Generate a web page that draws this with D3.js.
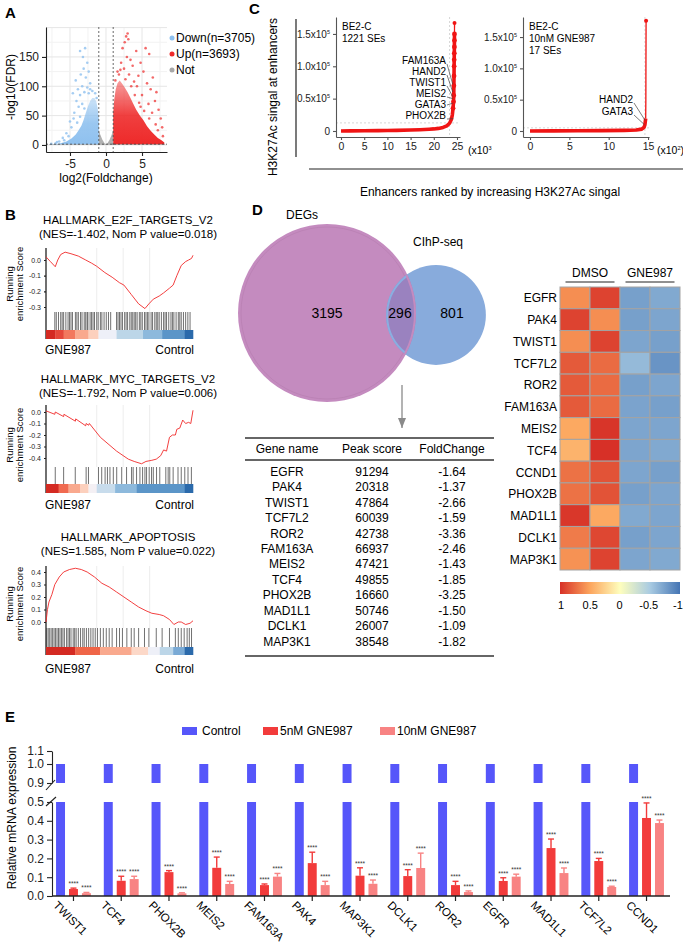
<!DOCTYPE html>
<html>
<head>
<meta charset="utf-8">
<script src="https://cdn.jsdelivr.net/npm/d3@7"></script>
<style>
body { margin: 0; background: #fff; }
</style>
</head>
<body>
<div id="fig"></div>
<script>
var FONT = '"Liberation Sans", Arial, Helvetica, sans-serif'

// ---------------- A: volcano
var volcanoXTicks = [-5, 0, 5]
var volcanoYTicks = [0, 50, 100, 150]
var volcanoGridX = [-7.5, -5, -2.5, 0, 2.5, 5, 7.5]
var volcanoGridY = [0, 25, 50, 75, 100, 125, 150, 175, 200]
var fcCut = [-1, 1]
var fdrCut = 1.3
var notBand = [[-7.9,0],[8.2,0],[8.2,1.3],[-7.9,1.3]]
var notCloud = [[-1,1.3],[-1,25],[-0.8,18],[-0.5,9],[-0.2,3],[0,1.3],[0.2,3],[0.5,9],[0.8,18],[1,25],[1,1.3]]
var downCloud = [[-1.0,1.3],[-1.0,45],[-1.15,62],[-1.35,74],[-1.6,80],[-1.9,80],[-2.2,75],[-2.5,66],[-2.8,55],[-3.1,43],[-3.4,33],[-3.8,25],[-4.2,18],[-4.8,11],[-5.5,6],[-6.3,3],[-7.2,1.3]]
var upCloud = [[1.0,1.3],[1.0,55],[1.15,78],[1.35,95],[1.6,105],[1.9,110],[2.2,105],[2.6,98],[3.0,90],[3.4,80],[3.8,70],[4.2,60],[4.7,50],[5.2,42],[5.7,32],[6.2,24],[6.7,18],[7.2,12],[7.7,8],[8.1,4],[8.1,1.3]]
var downPoints = [[-2.9,165],[-3.6,160],[-3.2,150],[-2.6,140],[-3.1,130],[-2.4,125],[-3.5,120],[-2.8,115],[-4.2,110],[-2.2,105],[-3.3,100],[-2.6,98],[-3.9,95],[-4.6,88],[-3.0,90],[-2.4,88],[-3.6,85],[-4.1,75],[-3.8,65],[-4.4,55],[-5.0,40],[-4.8,30],[-5.5,20],[-6.0,12],[-5.2,15],[-6.5,6],[-7.0,3],[-7.6,2],[-6.8,5],[-5.8,8],[-4.5,45],[-3.3,70],[-1.5,88],[-1.9,92],[-1.3,80],[-3.0,62],[-3.6,48],[-4.0,38],[-2.2,95]]
var upPoints = [[3.0,190],[2.8,185],[3.1,180],[2.6,175],[2.3,165],[5.5,165],[4.2,160],[6.0,155],[2.9,150],[3.4,145],[2.1,140],[4.8,140],[3.7,135],[2.5,130],[5.2,125],[3.2,120],[4.5,118],[6.5,115],[2.0,128],[3.9,108],[5.7,105],[4.3,100],[6.2,95],[7.0,90],[5.0,85],[3.5,100],[6.8,75],[5.9,70],[7.3,60],[4.8,65],[6.4,55],[7.6,45],[7.8,30],[6.9,35],[7.2,25],[5.3,58],[4.0,85],[1.6,125],[1.3,110],[7.9,15],[2.7,112],[1.8,120],[4.6,72],[6.0,45]]
var volcanoLegend = ["Down(n=3705)", "Up(n=3693)", "Not"]
var volcanoColors = ["#8fc1ef", "#ee2a2a", "#a8a8a8"]

// ---------------- C: super-enhancer ranking
var seLeftTicksX = [0, 5, 10, 15, 20, 25]
var seRightTicksX = [0, 5, 10, 15]
var seTicksY = [0, 0.5, 1.0, 1.5]
var seLeft = [[0,0],[2,0.002],[5,0.004],[8,0.006],[10,0.008],[12,0.01],[15,0.015],[17,0.02],[19,0.027],[20,0.032],[21,0.04],[22,0.055],[22.8,0.08],[23.4,0.12],[23.8,0.18],[24.0,0.25],[24.15,0.35],[24.25,0.45],[24.3,0.55],[24.33,0.7],[24.36,0.85],[24.38,1.0],[24.4,1.1],[24.42,1.2],[24.44,1.3],[24.45,1.4],[24.46,1.5],[24.47,1.67]]
var seRight = [[0,0],[3,0.002],[6,0.004],[9,0.006],[12,0.01],[13.5,0.015],[14.2,0.03],[14.5,0.06],[14.6,0.1],[14.65,0.15],[14.7,0.2],[14.72,0.5],[14.73,1.0],[14.75,1.76]]
var seLeftCut = [23.4, 0.125]
var seRightCut = [14.6, 0.05]
var seLeftInfo = ["BE2-C", "1221 SEs"]
var seRightInfo = ["BE2-C", "10nM GNE987", "17 SEs"]
var seLeftGenes = ["FAM163A", "HAND2", "TWIST1", "MEIS2", "GATA3", "PHOX2B"]
var seLeftGeneSignal = [0.72, 0.6, 0.53, 0.5, 0.43, 0.19]
var seLeftGeneRank = [24.1, 24.1, 24.1, 24.1, 24.1, 24.2]
var seRightGenes = ["HAND2", "GATA3"]
var seRightGeneSignal = [0.17, 0.1]
var seRightGeneRank = [14.62, 14.55]

// ---------------- B: GSEA
var gseaTitles = ["HALLMARK_E2F_TARGETS_V2", "HALLMARK_MYC_TARGETS_V2", "HALLMARK_APOPTOSIS"]
var gseaStats = ["(NES=-1.402, Nom P value=0.018)", "(NES=-1.792, Nom P value=0.006)", "(NES=1.585, Nom P value=0.022)"]
var gseaTicks = [[0, -0.1, -0.2, -0.3], [0, -0.1, -0.2, -0.3, -0.4], [0, 0.1, 0.2, 0.3, 0.4]]
var gseaGrid = [0.345, 0.525, 0.705]
var e2fCurve = [[0,0.02],[0.03,-0.01],[0.063,-0.043],[0.08,0.0],[0.1,0.035],[0.13,0.05],[0.17,0.04],[0.22,0.025],[0.27,0.0],[0.31,-0.02],[0.345,-0.04],[0.4,-0.08],[0.45,-0.11],[0.5,-0.145],[0.53,-0.16],[0.58,-0.22],[0.63,-0.28],[0.673,-0.31],[0.7,-0.28],[0.73,-0.25],[0.77,-0.23],[0.8,-0.21],[0.84,-0.18],[0.865,-0.16],[0.89,-0.1],[0.92,-0.035],[0.95,-0.01],[0.97,0.0],[0.99,0.01],[1.0,0.03]]
var mycCurve = [[0,0.01],[0.06,-0.02],[0.063,0.0],[0.12,-0.04],[0.122,-0.02],[0.2,-0.08],[0.202,-0.06],[0.27,-0.12],[0.273,-0.1],[0.29,-0.115],[0.295,-0.1],[0.37,-0.22],[0.48,-0.34],[0.56,-0.41],[0.6,-0.43],[0.65,-0.45],[0.68,-0.43],[0.72,-0.42],[0.75,-0.41],[0.78,-0.38],[0.8,-0.33],[0.82,-0.34],[0.84,-0.22],[0.86,-0.2],[0.88,-0.2],[0.89,-0.15],[0.91,-0.14],[0.93,-0.07],[0.95,-0.1],[0.97,-0.09],[0.985,-0.1],[1.0,0.015]]
var apoCurve = [[0,0],[0.01,0.1],[0.02,0.16],[0.04,0.22],[0.06,0.3],[0.09,0.36],[0.12,0.4],[0.16,0.42],[0.2,0.43],[0.24,0.42],[0.28,0.4],[0.33,0.36],[0.38,0.31],[0.43,0.28],[0.48,0.24],[0.53,0.2],[0.58,0.16],[0.63,0.12],[0.68,0.09],[0.72,0.07],[0.77,0.06],[0.8,0.05],[0.84,0.02],[0.87,-0.02],[0.9,0.0],[0.92,0.0],[0.95,-0.02],[0.98,-0.01],[1.0,0.01]]
var e2fHits = [0.06,0.07,0.085,0.1,0.11,0.12,0.135,0.15,0.16,0.17,0.18,0.2,0.21,0.22,0.235,0.245,0.26,0.27,0.28,0.285,0.3,0.31,0.32,0.33,0.345,0.355,0.37,0.38,0.395,0.41,0.425,0.44,0.48,0.49,0.5,0.51,0.52,0.535,0.545,0.555,0.57,0.58,0.59,0.6,0.61,0.62,0.635,0.645,0.655,0.67,0.68,0.69,0.7,0.715,0.725,0.74,0.75,0.76,0.77,0.785,0.8,0.81,0.82,0.835,0.85,0.86,0.87,0.885,0.9,0.91,0.92,0.935,0.95,0.965,0.98]
var mycHits = [0.063,0.12,0.199,0.273,0.289,0.357,0.379,0.402,0.418,0.435,0.458,0.481,0.515,0.548,0.582,0.593,0.616,0.639,0.657,0.673,0.684,0.702,0.718,0.73,0.752,0.774,0.815,0.831,0.842,0.865,0.898,0.92,0.944,0.966,0.989]
var apoHits = [0.005,0.015,0.025,0.035,0.045,0.055,0.065,0.075,0.085,0.095,0.105,0.115,0.125,0.14,0.15,0.16,0.17,0.185,0.195,0.205,0.22,0.235,0.25,0.26,0.275,0.29,0.305,0.32,0.335,0.35,0.37,0.39,0.41,0.43,0.45,0.48,0.5,0.52,0.55,0.58,0.6,0.63,0.67,0.7,0.75,0.79,0.84,0.88,0.9,0.92,0.94,0.96,0.975,0.99]
var e2fRank = [[0,"#d42a22"],[0.063,"#e5483a"],[0.12,"#f2785e"],[0.199,"#f9a98e"],[0.289,"#fcd0bd"],[0.357,"#eef0f8"],[0.48,"#bcd6e8"],[0.66,"#8db9dc"],[0.79,"#5b95c8"],[0.943,"#2b6aab"]]
var mycRank = [[0,"#d42a22"],[0.086,"#f06a50"],[0.153,"#f9a98e"],[0.233,"#fcd0bd"],[0.289,"#f4f0f4"],[0.345,"#c8dcec"],[0.47,"#8db9dc"],[0.616,"#5b95c8"],[0.943,"#2b6aab"]]
var apoRank = [[0,"#d42a22"],[0.199,"#ef6548"],[0.368,"#f9a98e"],[0.582,"#fcd8c8"],[0.695,"#eef0f8"],[0.774,"#bcd6e8"],[0.865,"#7aaad5"],[0.943,"#2b6aab"]]

// ---------------- D: venn, table, heatmap
var vennNames = ["DEGs", "CIhP-seq"]
var vennCounts = [3195, 296, 801]
var tableHeader = ["Gene name", "Peak score", "FoldChange"]
var tableGenes = ["EGFR","PAK4","TWIST1","TCF7L2","ROR2","FAM163A","MEIS2","TCF4","PHOX2B","MAD1L1","DCLK1","MAP3K1"]
var tablePeak = ["91294","20318","47864","60039","42738","66937","47421","49855","16660","50746","26007","38548"]
var tableFold = ["-1.64","-1.37","-2.66","-1.59","-3.36","-2.46","-1.43","-1.85","-3.25","-1.50","-1.09","-1.82"]
var hmGenes = ["EGFR","PAK4","TWIST1","TCF7L2","ROR2","FAM163A","MEIS2","TCF4","CCND1","PHOX2B","MAD1L1","DCLK1","MAP3K1"]
var hmGroups = ["DMSO", "GNE987"]
var hmCols = ["DMSO_1", "DMSO_2", "GNE987_1", "GNE987_2"]
var hmValues = [
  [0.6, 0.92, -0.75, -0.7],
  [0.92, 0.6, -0.75, -0.72],
  [0.6, 0.92, -0.72, -0.75],
  [0.82, 0.75, -0.6, -0.82],
  [0.82, 0.75, -0.75, -0.72],
  [0.82, 0.75, -0.73, -0.75],
  [0.48, 0.98, -0.72, -0.72],
  [0.42, 1.0, -0.72, -0.7],
  [0.72, 0.85, -0.72, -0.75],
  [0.72, 0.85, -0.75, -0.72],
  [0.97, 0.48, -0.7, -0.72],
  [0.68, 0.9, -0.75, -0.72],
  [0.58, 0.92, -0.72, -0.7]
]
var hmScaleStops = [1, 0.5, 0, -0.5, -1]
var hmScaleColors = ["#d73027", "#fca55d", "#fefebd", "#a9cbe2", "#4575b4"]

// ---------------- E: qPCR bars
var qGenes = ["TWIST1","TCF4","PHOX2B","MEIS2","FAM163A","PAK4","MAP3K1","DCLK1","ROR2","EGFR","MAD1L1","TCF7L2","CCND1"]
var qSeries = ["Control", "5nM GNE987", "10nM GNE987"]
var qColors = ["#5656fa", "#f23b3b", "#f88383"]
var qControl = [1,1,1,1,1,1,1,1,1,1,1,1,1]
var q5nM = [0.037,0.081,0.127,0.15,0.058,0.175,0.108,0.106,0.058,0.08,0.255,0.186,0.415]
var q5nMErr = [0.005,0.024,0.008,0.057,0.006,0.058,0.042,0.034,0.02,0.017,0.048,0.014,0.08]
var q10nM = [0.015,0.09,0.014,0.064,0.103,0.058,0.065,0.149,0.021,0.103,0.122,0.048,0.388]
var q10nMErr = [0.004,0.015,0.003,0.014,0.017,0.02,0.02,0.079,0.006,0.013,0.027,0.004,0.016]
var qLowTicks = [0, 0.1, 0.2, 0.3, 0.4, 0.5]
var qHighTicks = [0.9, 1.0, 1.1]

var svg = d3.select("#fig").append("svg")
  .attr("width", 683).attr("height", 945)
  .attr("font-family", FONT)
svg.append("rect").attr("width", 683).attr("height", 945).attr("fill", "#fff")
var defs = svg.append("defs")

function panelLabel(x, y, t) {
  svg.append("text").attr("x", x).attr("y", y)
    .attr("font-size", 15).attr("font-weight", "bold").text(t)
}
function styleAxis(g, fs, col) {
  g.attr("font-family", FONT).attr("font-size", fs)
  g.selectAll("path").attr("stroke", col || "#222").attr("stroke-width", 1.1)
  g.selectAll("line").attr("stroke", col || "#222").attr("stroke-width", 1.1)
  g.selectAll("text").attr("fill", "#222")
}
function fadeGrad(id, col) {
  var gr = defs.append("linearGradient").attr("id", id).attr("x1", 0).attr("y1", 1).attr("x2", 0).attr("y2", 0)
  gr.append("stop").attr("offset", "0%").attr("stop-color", col).attr("stop-opacity", 1)
  gr.append("stop").attr("offset", "45%").attr("stop-color", col).attr("stop-opacity", 0.9)
  gr.append("stop").attr("offset", "100%").attr("stop-color", col).attr("stop-opacity", 0.45)
}

// =============== Panel A
panelLabel(5, 18, "A")
var ax = d3.scaleLinear().domain([-8.33, 8.47]).range([46, 167])
var ay = d3.scaleLinear().domain([-12, 201]).range([152, 27])
var gA = svg.append("g")
gA.selectAll(".gx").data(volcanoGridX).enter().append("line")
  .attr("x1", d => ax(d)).attr("x2", d => ax(d)).attr("y1", 27).attr("y2", 152)
  .attr("stroke", d => d % 5 === 0 ? "#e6e6e6" : "#f2f2f2")
gA.selectAll(".gy").data(volcanoGridY).enter().append("line")
  .attr("y1", d => ay(d)).attr("y2", d => ay(d)).attr("x1", 46).attr("x2", 167)
  .attr("stroke", d => d % 50 === 0 ? "#e6e6e6" : "#f2f2f2")
fadeGrad("fadeDown", volcanoColors[0])
fadeGrad("fadeUp", volcanoColors[1])
var area = d3.line().x(d => ax(d[0])).y(d => ay(d[1])).curve(d3.curveLinearClosed)
var poly = d3.line().x(d => ax(d[0])).y(d => ay(d[1]))
gA.append("path").attr("d", poly(notBand) + "Z").attr("fill", volcanoColors[2])
gA.append("path").attr("d", poly(notCloud) + "Z").attr("fill", volcanoColors[2]).attr("opacity", 0.9)
gA.append("path").attr("d", area(downCloud)).attr("fill", "url(#fadeDown)")
gA.append("path").attr("d", area(upCloud)).attr("fill", "url(#fadeUp)")
gA.selectAll(".dp").data(downPoints).enter().append("circle")
  .attr("cx", d => ax(d[0])).attr("cy", d => ay(d[1])).attr("r", 1.3)
  .attr("fill", volcanoColors[0]).attr("opacity", 0.8)
gA.selectAll(".up").data(upPoints).enter().append("circle")
  .attr("cx", d => ax(d[0])).attr("cy", d => ay(d[1])).attr("r", 1.3)
  .attr("fill", volcanoColors[1]).attr("opacity", 0.7)
gA.selectAll(".vc").data(fcCut).enter().append("line")
  .attr("x1", d => ax(d)).attr("x2", d => ax(d)).attr("y1", 27).attr("y2", 152)
  .attr("stroke", "#444").attr("stroke-width", 0.8).attr("stroke-dasharray", "2,2")
gA.append("line").attr("x1", 46).attr("x2", 167).attr("y1", ay(fdrCut)).attr("y2", ay(fdrCut))
  .attr("stroke", "#444").attr("stroke-width", 0.8).attr("stroke-dasharray", "2,2")
var axA = gA.append("g").attr("transform", "translate(46,0)")
  .call(d3.axisLeft(ay).tickValues(volcanoYTicks).tickSize(4).tickSizeOuter(0))
styleAxis(axA, 12)
var bxA = gA.append("g").attr("transform", "translate(0,152)")
  .call(d3.axisBottom(ax).tickValues(volcanoXTicks).tickSize(4).tickSizeOuter(0).tickFormat(d => d))
styleAxis(bxA, 12)
gA.append("text").attr("transform", "translate(15,87) rotate(-90)")
  .attr("text-anchor", "middle").attr("font-size", 12).text("-log10(FDR)")
gA.append("text").attr("x", 106).attr("y", 182).attr("text-anchor", "middle")
  .attr("font-size", 12).text("log2(Foldchange)")
volcanoLegend.forEach(function(t, i) {
  gA.append("circle").attr("cx", 172).attr("cy", 38 + i * 16).attr("r", 2.5).attr("fill", volcanoColors[i])
  gA.append("text").attr("x", 176).attr("y", 42 + i * 16).attr("font-size", 12).text(t)
})

// =============== Panel C
panelLabel(249, 14, "C")
svg.append("text").attr("transform", "translate(277,97) rotate(-90)")
  .attr("text-anchor", "middle").attr("font-size", 12).text("H3K27Ac singal at enhancers")
svg.append("line").attr("x1", 296).attr("x2", 296).attr("y1", 19).attr("y2", 157)
  .attr("stroke", "#222").attr("stroke-width", 1.2)
svg.append("line").attr("x1", 309).attr("x2", 683).attr("y1", 169).attr("y2", 169)
  .attr("stroke", "#222").attr("stroke-width", 1.2)
svg.append("text").attr("x", 490).attr("y", 196).attr("text-anchor", "middle")
  .attr("font-size", 12).text("Enhancers ranked by increasing H3K27Ac singal")

function sePlot(o) {
  var g = svg.append("g")
  var x = d3.scaleLinear().domain(o.xd).range(o.xr)
  var y = d3.scaleLinear().domain(o.yd).range([137, 17])
  g.append("line").attr("x1", x(o.cut[0])).attr("x2", x(o.cut[0])).attr("y1", 17).attr("y2", 137)
    .attr("stroke", "#c4c4c4").attr("stroke-width", 0.7).attr("stroke-dasharray", "2,2")
  g.append("line").attr("x1", o.xr[0]).attr("x2", o.xr[1]).attr("y1", y(o.cut[1])).attr("y2", y(o.cut[1]))
    .attr("stroke", "#c4c4c4").attr("stroke-width", 0.7).attr("stroke-dasharray", "2,2")
  var ya = g.append("g").attr("transform", "translate(" + o.xr[0] + ",0)")
    .call(d3.axisLeft(y).tickValues(seTicksY).tickSize(3).tickSizeOuter(0)
      .tickFormat(d => d === 0 ? "0" : d.toFixed(1) + "x10"))
  styleAxis(ya, 10, "#555")
  ya.selectAll(".tick text").filter(d => d !== 0)
    .append("tspan").attr("dy", -4).attr("font-size", 5.5).text("5")
  var xa = g.append("g").attr("transform", "translate(0,137)")
    .call(d3.axisBottom(x).tickValues(o.xt).tickSize(3).tickSizeOuter(0))
  styleAxis(xa, 10.5, "#555")
  var unit = g.append("text").attr("x", o.xr[1] + 8).attr("y", 154).attr("font-size", 10.5).text("(x10")
  unit.append("tspan").attr("dy", -4).attr("font-size", 5.5).text(o.exp)
  if (o.close) unit.append("tspan").attr("dy", 4).text(")")
  var line = d3.line().x(d => x(d[0])).y(d => y(d[1]))
  var thick = o.data.filter(d => d[1] <= o.thickTo)
  var thin = o.data.filter(d => d[1] >= o.thinFrom)
  g.append("path").attr("d", line(thick)).attr("fill", "none").attr("stroke", "#f01414")
    .attr("stroke-width", 3.6).attr("stroke-linejoin", "round")
  g.append("path").attr("d", line(thin)).attr("fill", "none").attr("stroke", "#f01414").attr("stroke-width", 1.3)
  g.selectAll(".pt").data(o.data.filter(d => d[1] >= o.dotFrom)).enter().append("circle")
    .attr("cx", d => x(d[0])).attr("cy", d => y(d[1])).attr("r", d => d[1] > o.thickTo ? 2 : 2.4).attr("fill", "#f01414")
  o.info.forEach(function(t, i) {
    g.append("text").attr("x", o.xr[0] + 6).attr("y", 30 + i * 12).attr("font-size", 10).text(t)
  })
  o.genes.forEach(function(t, i) {
    var ty = o.labY + i * o.labStep
    g.append("text").attr("x", o.labX).attr("y", ty).attr("text-anchor", "end").attr("font-size", 10).text(t)
    g.append("line").attr("x1", o.labX + 1).attr("y1", ty - 3 + (o.genes[i] === "GATA3" && o.flat ? 0 : 3))
      .attr("x2", x(o.rank[i])).attr("y2", y(o.sig[i]))
      .attr("stroke", "#444").attr("stroke-width", 0.7)
  })
}
sePlot({xd: [-1.08, 25.65], xr: [336, 460], yd: [-0.093, 1.762], xt: seLeftTicksX, data: seLeft,
  cut: seLeftCut, exp: "3", close: false, thickTo: 1.55, thinFrom: 1.5, dotFrom: 0.3,
  info: seLeftInfo, genes: seLeftGenes, sig: seLeftGeneSignal, rank: seLeftGeneRank,
  labX: 446, labY: 64, labStep: 11, flat: true})
sePlot({xd: [-0.89, 15.12], xr: [523, 649], yd: [-0.096, 1.82], xt: seRightTicksX, data: seRight,
  cut: seRightCut, exp: "2", close: true, thickTo: 0.2, thinFrom: 0.2, dotFrom: 1.7,
  info: seRightInfo, genes: seRightGenes, sig: seRightGeneSignal, rank: seRightGeneRank,
  labX: 633, labY: 103, labStep: 12, flat: false})

// =============== Panel B
panelLabel(5, 220, "B")
function gsea(o) {
  var g = svg.append("g")
  var x = d3.scaleLinear().domain([0, 1]).range([46, 193])
  var y = d3.scaleLinear().domain(o.yd).range(o.yr)
  g.append("text").attr("x", 128).attr("y", o.titleY).attr("text-anchor", "middle").attr("font-size", 11.5).text(o.title)
  g.append("text").attr("x", 128).attr("y", o.titleY + 14).attr("text-anchor", "middle").attr("font-size", 11.5).text(o.stat)
  g.selectAll(".gl").data(gseaGrid).enter().append("line")
    .attr("x1", d => x(d)).attr("x2", d => x(d)).attr("y1", o.top).attr("y2", o.hits[0])
    .attr("stroke", "#e8e8e8").attr("stroke-width", 0.8)
  var ya = g.append("g").attr("transform", "translate(46,0)")
    .call(d3.axisLeft(y).tickValues(o.ticks).tickSize(2).tickFormat(d => d.toFixed(1)))
  styleAxis(ya, 7, "#222")
  ya.select(".domain").remove()
  g.append("line").attr("x1", 46).attr("x2", 46).attr("y1", o.top).attr("y2", o.colors[1])
    .attr("stroke", "#222").attr("stroke-width", 1.3)
  g.append("path").datum(o.curve).attr("d", d3.line().x(d => x(d[0])).y(d => y(d[1])))
    .attr("fill", "none").attr("stroke", "#f02a2a").attr("stroke-width", 0.9)
  g.selectAll(".hit").data(o.hitData).enter().append("line")
    .attr("x1", d => x(d)).attr("x2", d => x(d)).attr("y1", o.hits[0]).attr("y2", o.hits[1])
    .attr("stroke", "#333").attr("stroke-width", 0.7)
  g.selectAll(".rk").data(o.rank).enter().append("rect")
    .attr("x", d => x(d[0])).attr("y", o.colors[0])
    .attr("width", (d, i) => x(i + 1 < o.rank.length ? o.rank[i + 1][0] : 1) - x(d[0]) + 0.3)
    .attr("height", o.colors[1] - o.colors[0]).attr("fill", d => d[1])
  g.append("text").attr("x", 45).attr("y", o.labY).attr("font-size", 12).text("GNE987")
  g.append("text").attr("x", 194).attr("y", o.labY).attr("text-anchor", "end").attr("font-size", 12).text("Control")
  var yl = g.append("text").attr("transform", "translate(13," + o.ylY + ") rotate(-90)")
    .attr("text-anchor", "middle").attr("font-size", 9.5)
  yl.append("tspan").attr("x", 0).attr("dy", 0).text("Running")
  yl.append("tspan").attr("x", 0).attr("dy", 9.5).text("enrichment Score")
}
gsea({title: gseaTitles[0], stat: gseaStats[0], yd: [0, -0.3], yr: [260, 307], ticks: gseaTicks[0],
  top: 248, hits: [312, 330], colors: [330, 339], labY: 354, titleY: 224, ylY: 284,
  curve: e2fCurve, hitData: e2fHits, rank: e2fRank})
gsea({title: gseaTitles[1], stat: gseaStats[1], yd: [0, -0.4], yr: [412, 458], ticks: gseaTicks[1],
  top: 405, hits: [467, 484], colors: [484, 493], labY: 509, titleY: 383, ylY: 445,
  curve: mycCurve, hitData: mycHits, rank: mycRank})
gsea({title: gseaTitles[2], stat: gseaStats[2], yd: [0, 0.4], yr: [622, 572], ticks: gseaTicks[2],
  top: 566, hits: [628, 647], colors: [647, 655], labY: 673, titleY: 541, ylY: 604,
  curve: apoCurve, hitData: apoHits, rank: apoRank})

// =============== Panel D
panelLabel(252, 215, "D")
var vr = d3.scaleSqrt().domain([0, vennCounts[0] + vennCounts[1]]).range([0, 89])
var rA = vr(vennCounts[0] + vennCounts[1]), rB = vr(vennCounts[1] + vennCounts[2])
var cA = [327, 313], cB = [436, 315]
defs.append("clipPath").attr("id", "clipA").append("circle").attr("cx", cA[0]).attr("cy", cA[1]).attr("r", rA)
defs.append("clipPath").attr("id", "clipB").append("circle").attr("cx", cB[0]).attr("cy", cB[1]).attr("r", rB)
svg.append("circle").attr("cx", cA[0]).attr("cy", cA[1]).attr("r", rA).attr("fill", "#c48bbf")
svg.append("circle").attr("cx", cA[0]).attr("cy", cA[1]).attr("r", rA - 3).attr("fill", "none")
  .attr("stroke", "#b67caf").attr("stroke-width", 0.6)
svg.append("circle").attr("cx", cB[0]).attr("cy", cB[1]).attr("r", rB).attr("fill", "#88abdc")
svg.append("circle").attr("cx", cB[0]).attr("cy", cB[1]).attr("r", rB).attr("fill", "#9a82bf")
  .attr("clip-path", "url(#clipA)")
svg.append("circle").attr("cx", cB[0]).attr("cy", cB[1]).attr("r", rB - 1).attr("fill", "none")
  .attr("stroke", "#8aaee0").attr("stroke-width", 2).attr("clip-path", "url(#clipA)")
svg.append("circle").attr("cx", cA[0]).attr("cy", cA[1]).attr("r", rA - 1).attr("fill", "none")
  .attr("stroke", "#c48bbf").attr("stroke-width", 2).attr("clip-path", "url(#clipB)")
svg.append("text").attr("x", cA[0]).attr("y", 318).attr("text-anchor", "middle").attr("font-size", 14).text(vennCounts[0])
svg.append("text").attr("x", 400).attr("y", 318).attr("text-anchor", "middle").attr("font-size", 14).text(vennCounts[1])
svg.append("text").attr("x", 452).attr("y", 318).attr("text-anchor", "middle").attr("font-size", 14).text(vennCounts[2])
svg.append("text").attr("x", 302).attr("y", 219).attr("text-anchor", "middle").attr("font-size", 12).text(vennNames[0])
svg.append("text").attr("x", 438).attr("y", 246).attr("text-anchor", "middle").attr("font-size", 12).text(vennNames[1])
defs.append("marker").attr("id", "arr").attr("viewBox", "0 0 10 10").attr("refX", 10).attr("refY", 5)
  .attr("markerWidth", 8).attr("markerHeight", 8).attr("orient", "auto")
  .append("path").attr("d", "M0,1 L10,5 L0,9 Z").attr("fill", "#8a8a8a")
svg.append("line").attr("x1", 402).attr("x2", 402).attr("y1", 385).attr("y2", 428)
  .attr("stroke", "#8a8a8a").attr("stroke-width", 1.3).attr("marker-end", "url(#arr)")
// table
var colX = [287, 372, 452]
;[438, 460, 656].forEach(function(ly) {
  svg.append("line").attr("x1", 245).attr("x2", 494).attr("y1", ly).attr("y2", ly).attr("stroke", "#333").attr("stroke-width", 1.3)
})
tableHeader.forEach(function(t, i) {
  svg.append("text").attr("x", colX[i]).attr("y", 453).attr("text-anchor", "middle").attr("font-size", 12).text(t)
})
var rowY = d3.scalePoint().domain(tableGenes).range([476, 645.5])
tableGenes.forEach(function(gname, i) {
  [gname, tablePeak[i], tableFold[i]].forEach(function(t, j) {
    svg.append("text").attr("x", colX[j]).attr("y", rowY(gname)).attr("text-anchor", "middle")
      .attr("font-size", 12).text(t)
  })
})
// heatmap
var hx = d3.scaleBand().domain(hmCols).range([560, 680])
var hy = d3.scaleBand().domain(hmGenes).range([287, 570])
var hcol = d3.scaleLinear().domain(hmScaleStops).range(hmScaleColors).clamp(true)
var gH = svg.append("g")
hmGenes.forEach(function(gname, i) {
  hmCols.forEach(function(c, j) {
    gH.append("rect").attr("x", hx(c)).attr("y", hy(gname)).attr("width", hx.bandwidth()).attr("height", hy.bandwidth())
      .attr("fill", hcol(hmValues[i][j])).attr("stroke", "#a3a3a3").attr("stroke-width", 1)
  })
  gH.append("text").attr("x", 557).attr("y", hy(gname) + hy.bandwidth() / 2 + 4.5)
    .attr("text-anchor", "end").attr("font-size", 12).text(gname)
})
hmGroups.forEach(function(t, i) {
  var cx = (hx(hmCols[i * 2]) + hx(hmCols[i * 2 + 1]) + hx.bandwidth()) / 2
  gH.append("text").attr("x", cx).attr("y", 277).attr("text-anchor", "middle").attr("font-size", 12).text(t)
  gH.append("line").attr("x1", cx - 24.5).attr("x2", cx + 24.5).attr("y1", 282).attr("y2", 282)
    .attr("stroke", "#222").attr("stroke-width", 1.2)
})
var grad = defs.append("linearGradient").attr("id", "hmgrad")
hmScaleStops.forEach(function(s, i) {
  grad.append("stop").attr("offset", (i / (hmScaleStops.length - 1) * 100) + "%").attr("stop-color", hmScaleColors[i])
})
gH.append("rect").attr("x", 560).attr("y", 582).attr("width", 120).attr("height", 12).attr("fill", "url(#hmgrad)")
var cbx = d3.scaleLinear().domain([1, -1]).range([561, 678])
gH.selectAll(".cbl").data(hmScaleStops).enter().append("text")
  .attr("x", d => cbx(d)).attr("y", 609).attr("text-anchor", "middle").attr("font-size", 11)
  .text(d => d === 0 ? "0" : String(d))

// =============== Panel E
panelLabel(5, 722, "E")
var ex0 = d3.scaleBand().domain(qGenes).range([49.6, 670.4]).paddingInner(0.27).paddingOuter(0.135)
var ex1 = d3.scaleBand().domain(qSeries).range([0, ex0.bandwidth()]).paddingInner(0.3077)
var ely = d3.scaleLinear().domain([0, 0.5]).range([896, 802])
var ehy = d3.scaleLinear().domain([0.9, 1.0, 1.1]).range([783, 764, 751])
var qVals = [qControl, q5nM, q10nM]
var qErrs = [null, q5nMErr, q10nMErr]
var gE = svg.append("g")
qSeries.forEach(function(s, k) {
  qGenes.forEach(function(gname, i) {
    var v = qVals[k][i]
    var bx = ex0(gname) + ex1(s), bw = ex1.bandwidth()
    gE.append("rect").attr("x", bx).attr("y", ely(Math.min(v, 0.5))).attr("width", bw)
      .attr("height", ely(0) - ely(Math.min(v, 0.5))).attr("fill", qColors[k])
    if (v > 0.9) {
      gE.append("rect").attr("x", bx).attr("y", ehy(v)).attr("width", bw)
        .attr("height", ehy(0.9) - ehy(v)).attr("fill", qColors[k])
    }
    if (qErrs[k]) {
      var top = v + qErrs[k][i], cxm = bx + bw / 2
      gE.append("line").attr("x1", cxm).attr("x2", cxm).attr("y1", ely(v)).attr("y2", ely(top))
        .attr("stroke", qColors[k]).attr("stroke-width", 1.4)
      gE.append("line").attr("x1", cxm - 3).attr("x2", cxm + 3).attr("y1", ely(top)).attr("y2", ely(top))
        .attr("stroke", qColors[k]).attr("stroke-width", 1.4)
      gE.append("text").attr("x", cxm).attr("y", ely(top) - 2).attr("text-anchor", "middle")
        .attr("font-size", 6.5).attr("fill", "#333").text("****")
    }
  })
})
var eLow = gE.append("g").attr("transform", "translate(52,0)")
  .call(d3.axisLeft(ely).tickValues(qLowTicks).tickSize(5).tickSizeOuter(0).tickFormat(d => d.toFixed(1)))
styleAxis(eLow, 12, "#222")
var eHigh = gE.append("g").attr("transform", "translate(52,0)")
  .call(d3.axisLeft(ehy).tickValues(qHighTicks).tickSize(5).tickSizeOuter(0).tickFormat(d => d.toFixed(1)))
styleAxis(eHigh, 12, "#222")
gE.append("line").attr("x1", 46).attr("y1", 790).attr("x2", 55).attr("y2", 780).attr("stroke", "#222").attr("stroke-width", 1.1)
gE.append("line").attr("x1", 46).attr("y1", 806).attr("x2", 56).attr("y2", 797).attr("stroke", "#222").attr("stroke-width", 1.1)
gE.append("line").attr("x1", 52).attr("x2", 670).attr("y1", 896).attr("y2", 896).attr("stroke", "#222").attr("stroke-width", 1.3)
qGenes.forEach(function(gname) {
  var tx = ex0(gname) + ex1(qSeries[1]) + ex1.bandwidth() / 2
  gE.append("line").attr("x1", tx).attr("x2", tx).attr("y1", 896).attr("y2", 901).attr("stroke", "#222").attr("stroke-width", 1.2)
  gE.append("text").attr("transform", "translate(" + (tx - 21) + ",906) rotate(45)")
    .attr("font-size", 11.5).text(gname)
})
gE.append("text").attr("transform", "translate(16,818) rotate(-90)").attr("text-anchor", "middle")
  .attr("font-size", 12).text("Relative mRNA expression")
var legX = [182, 263, 380]
qSeries.forEach(function(s, k) {
  gE.append("rect").attr("x", legX[k]).attr("y", 727).attr("width", 15).attr("height", 8).attr("fill", qColors[k])
  gE.append("text").attr("x", legX[k] + (k === 0 ? 20 : 17)).attr("y", 735).attr("font-size", 12).text(s)
})
</script>
</body>
</html>
